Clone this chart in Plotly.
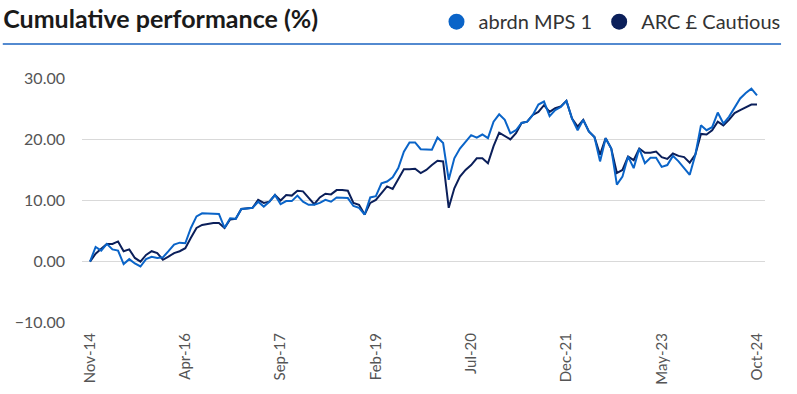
import pandas as pd
import plotly.graph_objects as go

# Monthly observations, Nov 2014 - Oct 2024
months = pd.date_range("2014-11-01", periods=120, freq="MS").strftime("%b-%y").tolist()
tick_labels = months[::17]

series_names = ["abrdn MPS 1", "ARC £ Cautious"]
series_colors = ["#0a64c8", "#0b1f5a"]

abrdn_mps1 = [
    0.0, 2.4, 1.8, 2.9, 2.0, 1.8, -0.4, 0.4, -0.3, -0.8,
    0.4, 0.8, 0.6, 0.7, 1.7, 2.8, 3.1, 3.0, 5.5, 7.4,
    7.9, 7.9, 7.9, 7.8, 5.5, 7.1, 7.0, 8.6, 8.7, 8.8,
    9.8, 9.0, 9.8, 10.9, 9.4, 9.9, 9.9, 10.8, 9.8, 9.3,
    9.3, 9.6, 10.1, 9.8, 10.5, 10.5, 10.4, 9.1, 8.8, 7.7,
    10.5, 10.7, 12.8, 13.1, 13.8, 15.3, 18.0, 19.5, 19.5, 18.4,
    18.4, 18.3, 20.3, 19.4, 13.4, 16.9, 18.5, 19.6, 20.7, 20.3,
    20.8, 20.2, 22.9, 24.1, 23.2, 21.0, 21.5, 22.7, 22.9, 24.0,
    25.7, 26.2, 23.8, 24.8, 25.3, 26.3, 23.4, 21.5, 23.2, 21.3,
    20.4, 16.4, 20.2, 18.5, 12.6, 13.9, 17.2, 15.3, 18.5, 16.1,
    17.0, 17.0, 15.5, 15.8, 17.3, 16.4, 15.3, 14.2, 17.5, 22.3,
    21.5, 22.0, 24.4, 22.6, 23.7, 25.3, 26.7, 27.6, 28.3, 27.2,
]

arc_cautious = [
    0.0, 1.3, 2.1, 2.9, 2.9, 3.3, 1.7, 2.0, 0.6, 0.0,
    1.1, 1.7, 1.4, 0.3, 0.8, 1.4, 1.7, 2.2, 3.9, 5.5,
    6.0, 6.2, 6.3, 6.3, 5.5, 6.9, 7.0, 8.6, 8.7, 8.8,
    10.1, 9.6, 9.8, 10.9, 10.0, 10.9, 10.8, 11.6, 11.5, 10.4,
    9.4, 10.5, 11.1, 11.0, 11.7, 11.7, 11.6, 9.6, 9.3, 7.7,
    9.6, 10.1, 11.2, 12.3, 11.9, 13.6, 15.1, 15.1, 15.2, 14.5,
    15.0, 15.8, 16.5, 16.4, 8.8, 12.0, 13.9, 15.0, 15.8, 16.9,
    16.9, 16.1, 18.9, 21.1, 20.6, 20.0, 21.0, 22.7, 22.9, 24.0,
    24.5, 25.6, 24.5, 25.1, 25.4, 26.3, 23.4, 22.1, 23.2, 21.3,
    20.4, 17.5, 20.2, 18.5, 14.5, 15.0, 17.2, 16.6, 18.5, 17.8,
    17.8, 18.0, 17.1, 16.8, 17.7, 17.3, 17.1, 16.2, 17.5, 20.9,
    20.8, 21.5, 22.9, 22.3, 23.2, 24.3, 24.8, 25.3, 25.7, 25.7,
]

values = [abrdn_mps1, arc_cautious]

FONT = "Lato"

fig = go.Figure()

# Lines (ARC drawn first so the abrdn line sits on top where they overlap)
for name, color, ys in reversed(list(zip(series_names, series_colors, values))):
    fig.add_trace(go.Scatter(
        x=months, y=ys, mode="lines", name=name,
        line=dict(color=color, width=2), showlegend=False,
        hovertemplate="%{x}: %{y:.2f}<extra>" + name + "</extra>",
    ))

# Legend entries shown as filled circles
for name, color in zip(series_names, series_colors):
    fig.add_trace(go.Scatter(
        x=[None], y=[None], mode="markers", name=name,
        marker=dict(color=color, size=17, symbol="circle"),
    ))

fig.update_layout(
    width=797, height=394,
    margin=dict(l=82, r=32, t=78, b=71, autoexpand=False),
    paper_bgcolor="white", plot_bgcolor="white",
    font=dict(family=FONT, color="#333333"),
    title=dict(
        text="<b>Cumulative performance (%)</b>",
        font=dict(family=FONT, size=25, color="#1a1a1a"),
        x=0.004, xanchor="left", xref="container",
        y=1 - 19 / 394, yanchor="middle", yref="container",
    ),
    legend=dict(
        orientation="h", x=1.03, xanchor="right",
        y=1.23, yanchor="middle",
        font=dict(family=FONT, size=20, color="#333333"),
        itemwidth=34, tracegroupgap=0,
        bgcolor="rgba(0,0,0,0)",
    ),
    showlegend=True,
)

fig.update_xaxes(
    type="category",
    range=[-1.43, 120.43],
    tickmode="array", tickvals=tick_labels, ticktext=tick_labels,
    tickangle=-90,
    tickfont=dict(family=FONT, size=15, color="#555555"),
    showgrid=False, showline=False, zeroline=False,
    ticks="", ticklabelstandoff=6, automargin=False,
)

fig.update_yaxes(
    range=[-10.05, 30.05],
    tickvals=[-10, 0, 10, 20, 30],
    tickformat=".2f",
    tickfont=dict(family=FONT, size=16, color="#555555"),
    showgrid=True, gridcolor="#d9d9d9", gridwidth=1,
    zeroline=False, showline=False, ticks="",
    ticklabelstandoff=16, automargin=False,
)

# Rule beneath the heading
fig.add_shape(
    type="line", xref="paper", yref="paper",
    x0=-0.116, x1=1.0235, y0=1.139, y1=1.139,
    line=dict(color="#1a63c0", width=1.5),
)

fig.write_html("out.html")
